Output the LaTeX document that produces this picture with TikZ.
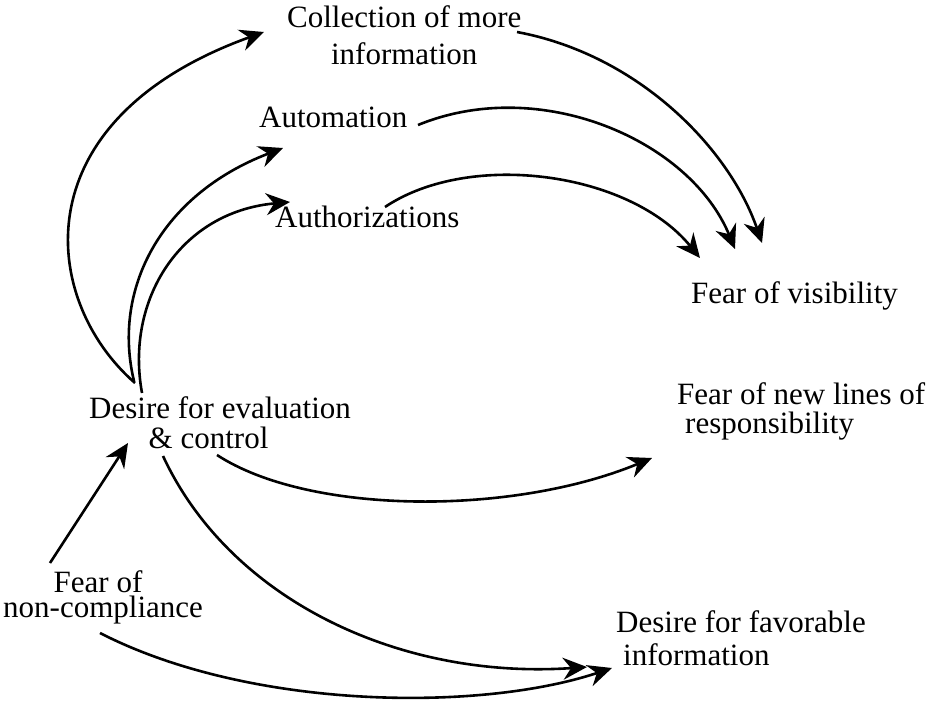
\documentclass[tikz,border=0pt]{standalone}
\usepackage{fontspec}
\setmainfont{Liberation Serif}
\usetikzlibrary{arrows.meta,calc,positioning}

\begin{document}
\begin{tikzpicture}[x=1pt,y=-1pt,
    lbl/.style={inner sep=0pt, anchor=base west, font=\fontsize{31}{31}\selectfont},
    arr/.style={line width=2.6pt, -{Stealth[length=24pt,width=22pt,inset=8pt]}}]
                \useasboundingbox (0,0) rectangle (927,709);
                % labels (multi-line nodes sit on their last line)
                \node[lbl, align=center] (coll) at (287,65) {Collection of more\\[6pt]information};
                \node[lbl] (auto) at (259,128) {Automation};
                \node[lbl] (authz) at (275,227) {Authorizations};
                \node[lbl] (vis) at (691,303) {Fear of visibility};
                \node[lbl, align=left] (resp) at (677,433) {Fear of new lines of\\[-2pt]\hspace*{8pt}responsibility};
                \node[lbl, align=center] (eval) at (89,448) {Desire for evaluation\\[-1pt]\hspace*{-23pt}\& control};
                \node[lbl, align=center] (noncomp) at (3,617) {\hspace*{-10pt}Fear of\\[-6pt]non-compliance};
                \node[lbl, align=left] (fav) at (616,665) {Desire for favorable\\[2pt]\hspace*{7pt}information};
                % from evaluation & control
                \draw[arr] ([shift={(46,-65)}]eval.base west) .. controls +(-95,-83) and +(-244,88) .. ([shift={(-23,-33)}]coll.base west);
                \draw[arr] ([shift={(45,-67)}]eval.base west) .. controls +(-22,-91) and +(-123,47) .. ([shift={(24,20)}]auto.base west);
                \draw[arr] ([shift={(53,-55)}]eval.base west) .. controls +(-17,-93) and +(-110,10) .. ([shift={(15,-25)}]authz.base west);
                \draw[arr] ([shift={(128,7)}]eval.base west) .. controls +(92,60) and +(-140,58) .. ([shift={(-25,25)}]resp.base west);
                \draw[arr] ([shift={(74,8)}]eval.base west) .. controls +(67,144) and +(-187,13) .. ([shift={(-29,2)}]fav.base west);
                % into fear of visibility
                \draw[arr] ([shift={(230,-33)}]coll.base west) .. controls +(123,23) and +(-32,-93) .. ([shift={(71,-60)}]vis.base west);
                \draw[arr] ([shift={(159,-3)}]auto.base west) .. controls +(122,-50) and +(-45,-109) .. ([shift={(44,-54)}]vis.base west);
                \draw[arr] ([shift={(110,-20)}]authz.base west) .. controls +(85,-57) and +(-70,-86) .. ([shift={(9,-45)}]vis.base west);
                % from non-compliance
                \draw[arr] ([shift={(47,-54)}]noncomp.base west) -- ([shift={(39,-5)}]eval.base west);
                \draw[arr] ([shift={(97,16)}]noncomp.base west) .. controls +(150,77) and +(-132,44) .. ([shift={(-4,3)}]fav.base west);
\end{tikzpicture}
\end{document}
